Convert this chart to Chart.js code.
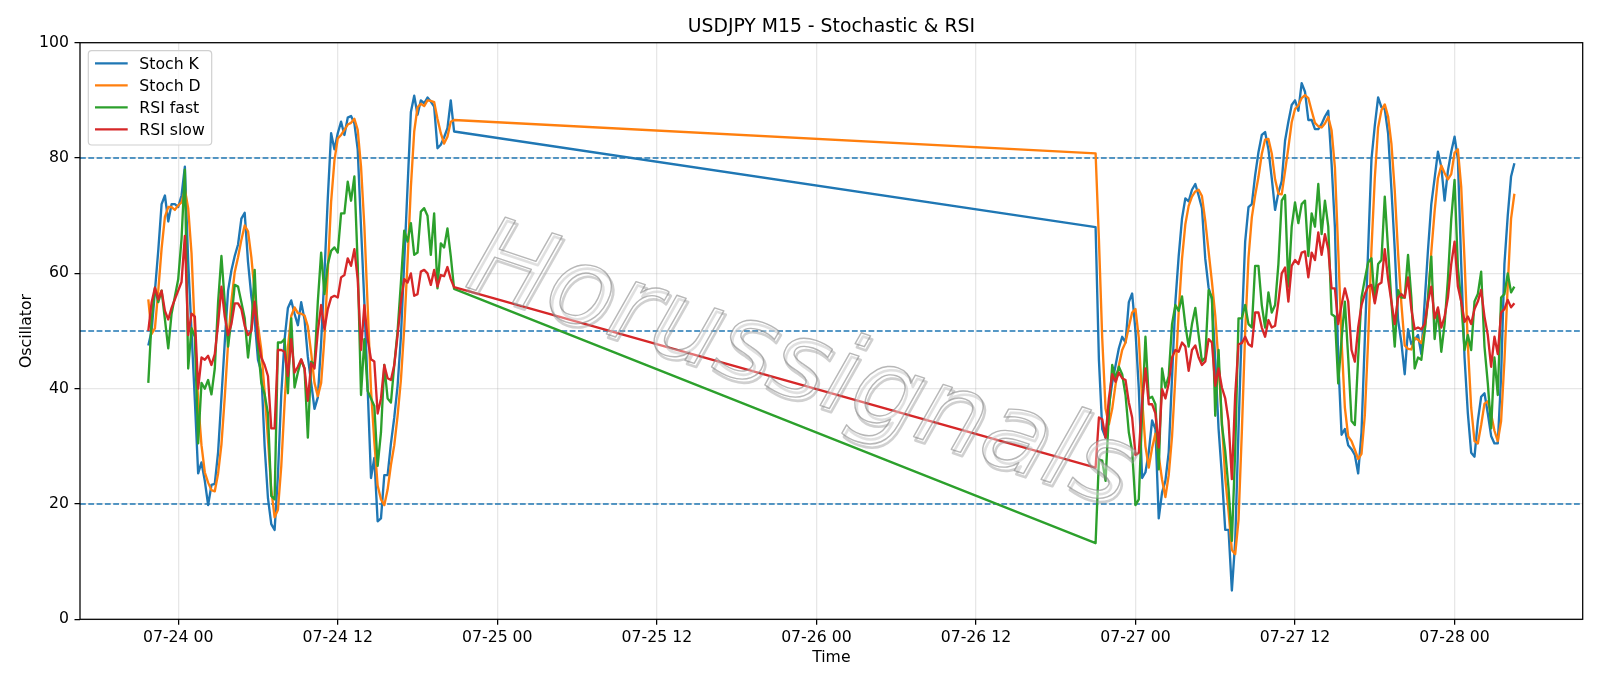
<!DOCTYPE html>
<html><head><meta charset="utf-8">
<script src="https://cdn.jsdelivr.net/npm/chart.js@4.4.1/dist/chart.umd.min.js"></script>
<style>html,body{margin:0;padding:0;background:#fff;}canvas{display:block;}</style>
</head><body>
<canvas id="c" width="1600" height="686"></canvas>
<script>
const chartTitle = 'USDJPY M15 - Stochastic & RSI';
const xAxisTitle = 'Time';
const yAxisTitle = 'Oscillator';
const watermarkText = 'Horussignals';
const seriesNames = ['Stoch K', 'Stoch D', 'RSI fast', 'RSI slow'];
const seriesColors = ['#1f77b4', '#ff7f0e', '#2ca02c', '#d62728'];
const xTickHours = [0, 12, 24, 36, 48, 60, 72, 84, 96];
const xTickLabels = ['07-24 00','07-24 12','07-25 00','07-25 12','07-26 00','07-26 12','07-27 00','07-27 12','07-28 00'];
const yTicks = [0, 20, 40, 60, 80, 100];
const levelLines = [20, 50, 80];
// time in hours from 07-24 00:00, M15 bars
const segment1 = {startHour: -2.25, count: 93};  // 07-23 21:45 .. 07-24 20:45
const segment2 = {startHour: 69, count: 127};    // 07-26 21:00 .. 07-28 04:30
const stepHours = 0.25;

const stochK = [
 47.5,50,57,64,72,73.5,69,72,72,71.5,
 73.5,78.5,62,50,38,25.3,27.2,24,19.8,23.3,
 23.5,29,38.5,48,57,60.5,63,65,69.5,70.5,
 62,56,52,45,43,30,21,16.5,15.5,25,
 39,48.5,54,55.3,53,51,55,52,45.5,41,
 36.5,38.5,48,60,73,84.3,81.5,84.3,86.3,84,
 87,87.3,86,81.5,68,55,40,24.5,28,17,
 17.5,25,25,30.5,35,40.5,49,62,75,88,
 90.8,87.5,90,89.5,90.5,89.8,88.9,81.7,82.3,83.6,
 85.2,90,84.6,
 68,45,33,31.5,37,41,44,47,49,48,
 55,56.5,50,40,24.5,25.5,29,34.5,33,17.5,
 22,24,29,42,55,63,69.5,73,72.5,74.5,
 75.5,73.5,71.3,62.5,57.5,55.5,45,33,25,15.5,
 15.5,5,13.5,33,51,65.5,71.5,72,77,81,
 84,84.5,81.5,76.5,71,74,76,83,86.3,89.2,
 90,88.2,93,91.5,86.6,86.6,85,85,85.9,87.2,
 88.2,79,68,45,32,33,30.2,29.5,28.5,25.3,
 32.4,48.6,64.2,79.8,85.6,90.5,88.8,88.5,84.3,74.6,
 64.2,51.9,48,42.5,50.3,47.7,48.5,49.3,46,55,
 64,72,76.5,81.1,78.5,72.6,77.8,81.1,83.7,79.8,
 61.6,45.4,35.7,28.9,28.2,34.4,38.6,39.2,35.7,31.8,
 30.5,30.5,42.2,61.6,70,76.8,79.1
];
const stochD = [
 55.5,49.5,50.5,57,64.3,69.8,71.5,71.5,71,71.8,
 72.3,74.5,71.3,63.5,50,37.8,30.2,25.5,23.7,22.4,
 22.2,25.3,30.3,38.5,47.8,55.2,60.2,62.8,65.8,68.3,
 67.3,62.8,56.7,51,46.7,39.3,31.3,22.5,17.7,19,
 26.5,37.5,47.2,52.6,54.1,53.1,53,52.7,50.8,46.2,
 41,38.7,41,48.8,60.3,72.4,79.6,83.4,84,84.9,
 85.8,86.1,86.8,84.9,78.5,68.2,54.3,39.8,30.8,23.2,
 20.8,19.8,22.5,26.8,30.2,35.3,41.5,50.5,62,75,
 84.6,88.8,89.4,89,90,89.9,89.7,86.8,84.3,82.5,
 83.7,86.3,86.6,
 80.8,65.9,48.7,36.5,33.8,36.5,40.7,44,46.7,48,
 50.7,53.2,53.8,48.8,38.2,30,26.3,29.7,32.2,28.3,
 24.2,21.2,25,31.7,42,53.3,62.5,68.5,71.7,73.3,
 74.2,74.5,73.4,69.1,63.8,58.5,52.7,44.5,34.3,24.5,
 18.7,12,11.3,17.2,32.5,49.8,62.7,69.7,73.5,76.7,
 80.7,83.2,83.3,80.8,76.3,73.8,73.7,77.7,81.8,86.2,
 88.5,89.1,90.4,90.9,90.4,88.2,86.1,85.5,85.3,86,
 87.1,84.8,78.4,64,48.3,36.7,31.7,30.9,29.4,27.8,
 28.7,35.4,48.4,64.2,76.5,85.3,88.3,89.3,87.2,82.5,
 74.4,63.6,54.7,47.5,46.9,46.8,48.8,48.5,47.9,50.1,
 55,63.7,70.8,76.5,78.7,77.4,76.3,77.2,80.9,81.5,
 75,62.3,47.6,36.7,30.9,30.5,33.7,37.4,37.8,35.6,
 32.7,30.9,34.4,44.8,57.9,69.5,73.8
];
const rsiFast = [
 41,52,57.5,55,57,52,47,53,56,59,
 66,78,43.5,50.5,49,30.5,41,40,41.5,39,
 43.5,55,63,55,47.3,52,58,57.7,55,52.2,
 45.4,50.6,60.6,47.3,41,39,35.7,21.4,20.8,48,
 48,48.6,39.2,52.2,40.2,42.8,45,43.5,31.5,44.7,
 44.1,55.1,63.6,56.4,61.6,63.9,64.5,63.6,70.4,70.4,
 75.9,72.6,76.8,61.6,38.9,48.6,39.6,38.3,37,26.6,
 32.4,44.1,38.3,37.6,44.1,50,58.4,67.4,65.5,68.7,
 63.2,63.6,70.7,71.3,70,63.2,70.4,57.4,65.2,64.5,
 67.8,63,57.3,
 13.2,27.7,27.5,24,35.7,44.1,41.8,43.8,42.5,38.9,
 32.4,29.2,19.8,20.8,35.7,49,38.3,38.6,37.3,26,
 43.5,40.2,42.2,51.2,54.5,53.5,56,51,47.3,51.2,
 54,49.3,44.7,45.4,57.1,55.8,35.3,46.7,33.7,29.2,
 22.7,13.6,29.2,52.2,52.2,54.5,51.2,50.6,61.3,61.3,
 54.5,50.6,56.7,53.2,54.5,61.6,72.6,73.6,57.7,68.1,
 72.3,68.7,72,72.6,63,70.4,68.1,75.5,66.8,72.6,
 68.1,52.9,52.5,40.9,48.6,55.1,45.4,34.4,33.7,45.4,
 55.8,59,61.9,62.6,55.1,61.6,62.3,73.3,64.2,55.1,
 47.3,57.1,55.8,55.8,63.2,55.8,43.5,45.4,45,49.9,
 55.8,62.9,48.6,53.8,46.4,51.2,59,69.4,76.2,61,
 55.1,46.7,49.3,46.7,55.1,56.4,60.3,47.3,40.9,33.1,
 45.4,38.9,55.8,56.4,60,56.7,57.7
];
const rsiSlow = [
 50,55,57.5,55.5,57,53.5,52,54,55.5,57,
 58.5,66.5,49.3,53,52.5,40,45.4,45,45.7,44.1,
 46,51.2,57.7,52.5,49.3,51.2,54.8,54.8,53.8,50.9,
 49.3,50,55.1,48.6,45.4,44.1,42.2,33.1,33.1,46.7,
 46.7,46.4,42.2,48.6,42.8,43.8,45.1,43.5,37.9,44.4,
 43.5,49.9,54.5,50.3,53.8,55.8,56.1,55.8,59.3,59.7,
 62.6,61.3,64.2,59,46.7,54.5,48.6,45.1,44.7,35.7,
 38.3,44.1,41.8,41.5,44.1,49.3,55.1,59,58.4,60,
 56.1,56.4,60.3,60.6,60,58,60.6,57.7,59.7,59.5,
 61.1,59,57.6,
 26.3,35,34.7,31.5,38.3,42.5,41.2,42.8,41.8,41.5,
 37.6,35,28.5,28.9,37.6,43.5,37.3,37.3,35.7,29.8,
 39.9,38.3,40.9,45.4,46.7,46.4,48,47.3,43.1,46.7,
 47.5,45.4,44.1,44.7,48.6,48,40.5,43.5,40.2,38.3,
 34.4,24.3,38.9,47.7,47.9,49,47.7,47.3,53.2,53.2,
 50.6,49,51.9,50.6,50.9,55.1,60,61,55.1,61.3,
 62.3,61.6,63.6,63.8,59.3,63.6,62.3,67.1,63.2,66.8,
 64.2,57.4,57.4,51.2,54.5,57.4,55.1,46.7,44.7,50.6,
 54.5,56.4,57.7,58,54.8,58,58.4,64.2,59,55.1,
 51.2,55.8,56.4,55.8,59.3,53.8,50.3,50.6,50.3,51.2,
 55.1,57.7,52.2,54.1,50.6,52.5,55.8,61.6,65.5,57.7,
 55.1,51.6,52.5,51.2,53.8,55.1,57.1,52.5,49.3,43.8,
 49,46,53.2,53.8,55.4,54.1,54.8
];

const timeHours = [];
for (let i = 0; i < segment1.count; i++) timeHours.push(segment1.startHour + i * stepHours);
for (let j = 0; j < segment2.count; j++) timeHours.push(segment2.startHour + j * stepHours);

const allSeries = [stochK, stochD, rsiFast, rsiSlow];
const xMin = -7.3875, xMax = 105.6375;
const FONT = '"DejaVu Sans", "Liberation Sans", sans-serif';
const FS = 15.7;

const mplPlugin = {
  id: 'mpl',
  beforeDraw(chart) {
    const ctx = chart.ctx;
    ctx.save(); ctx.fillStyle = '#fff'; ctx.fillRect(0, 0, chart.width, chart.height); ctx.restore();
  },
  beforeDatasetsDraw(chart) {
    const {ctx, chartArea: a, scales: {y}} = chart;
    ctx.save();
    ctx.beginPath(); ctx.rect(a.left, a.top, a.right - a.left, a.bottom - a.top); ctx.clip();
    ctx.strokeStyle = '#1f77b4'; ctx.lineWidth = 1.6; ctx.setLineDash([5.8, 2.5]);
    levelLines.forEach(v => {
      const py = y.getPixelForValue(v);
      ctx.beginPath(); ctx.moveTo(a.left, py); ctx.lineTo(a.right, py); ctx.stroke();
    });
    ctx.restore();
  },
  afterDatasetsDraw(chart) {
    const ctx = chart.ctx;
    ctx.save();
    ctx.translate(463, 286);
    ctx.rotate(18.5 * Math.PI / 180);
    ctx.font = 'italic 108px "DejaVu Sans"';
    ctx.textBaseline = 'alphabetic';
    ctx.lineJoin = 'round';
    ctx.strokeStyle = 'rgba(150,150,150,0.45)'; ctx.lineWidth = 2.6;
    ctx.strokeText(watermarkText, 3, 3);
    ctx.fillStyle = 'rgba(255,255,255,0.35)';
    ctx.fillText(watermarkText, 0, 0);
    ctx.strokeStyle = 'rgba(135,135,135,0.6)'; ctx.lineWidth = 1.4;
    ctx.strokeText(watermarkText, 0, 0);
    ctx.restore();
  },
  afterDraw(chart) {
    const {ctx, chartArea: a} = chart;
    ctx.save();
    ctx.strokeStyle = '#000'; ctx.lineWidth = 1.26;
    ctx.strokeRect(a.left, a.top, a.right - a.left, a.bottom - a.top);
    ctx.fillStyle = '#000';
    ctx.textAlign = 'center'; ctx.textBaseline = 'alphabetic';
    ctx.font = '18.8px ' + FONT;
    ctx.fillText(chartTitle, (a.left + a.right) / 2, 32);
    ctx.font = FS + 'px ' + FONT;
    ctx.fillText(xAxisTitle, (a.left + a.right) / 2, 662);
    ctx.save();
    ctx.translate(31, (a.top + a.bottom) / 2);
    ctx.rotate(-Math.PI / 2);
    ctx.fillText(yAxisTitle, 0, 0);
    ctx.restore();
    const lx = 88.3, ly = 50.7, lw = 123.4, lh = 94.3, r = 3.5;
    ctx.beginPath();
    ctx.moveTo(lx + r, ly); ctx.lineTo(lx + lw - r, ly); ctx.quadraticCurveTo(lx + lw, ly, lx + lw, ly + r);
    ctx.lineTo(lx + lw, ly + lh - r); ctx.quadraticCurveTo(lx + lw, ly + lh, lx + lw - r, ly + lh);
    ctx.lineTo(lx + r, ly + lh); ctx.quadraticCurveTo(lx, ly + lh, lx, ly + lh - r);
    ctx.lineTo(lx, ly + r); ctx.quadraticCurveTo(lx, ly, lx + r, ly); ctx.closePath();
    ctx.fillStyle = 'rgba(255,255,255,0.8)'; ctx.fill();
    ctx.strokeStyle = '#d0d0d0'; ctx.lineWidth = 1.2; ctx.stroke();
    ctx.textAlign = 'left'; ctx.textBaseline = 'alphabetic';
    chart.data.datasets.forEach((ds, k) => {
      const cy = 63.3 + 22 * k;
      ctx.strokeStyle = ds.borderColor; ctx.lineWidth = 2.35; ctx.lineCap = 'butt';
      ctx.beginPath(); ctx.moveTo(95, cy); ctx.lineTo(127.7, cy); ctx.stroke();
      ctx.fillStyle = '#000';
      ctx.fillText(ds.label, 139.3, cy + 5.7);
    });
    ctx.restore();
  }
};

const datasets = allSeries.map((vals, k) => ({
  label: seriesNames[k],
  data: vals.map((v, i) => ({x: timeHours[i], y: v})),
  borderColor: seriesColors[k],
  backgroundColor: seriesColors[k],
  borderWidth: 2.35,
  pointRadius: 0,
  tension: 0,
  fill: false,
  borderJoinStyle: 'round',
  order: allSeries.length - k
}));

new Chart(document.getElementById('c'), {
  type: 'line',
  data: {datasets},
  plugins: [mplPlugin],
  options: {
    responsive: false,
    animation: false,
    devicePixelRatio: 1,
    events: [],
    layout: {padding: {top: 42.7, right: 17.3, left: 0, bottom: 0}},
    plugins: {legend: {display: false}, title: {display: false}, tooltip: {enabled: false}},
    scales: {
      x: {
        type: 'linear', min: xMin, max: xMax,
        afterBuildTicks: s => { s.ticks = xTickHours.map(v => ({value: v})); },
        afterFit: s => { s.height = 66.7; },
        ticks: {
          autoSkip: false, maxRotation: 0, minRotation: 0, padding: 4,
          color: '#000', font: {family: FONT, size: FS},
          callback: (v, i) => xTickLabels[i]
        },
        grid: {color: 'rgba(176,176,176,0.3)', lineWidth: 1.26, tickColor: '#000', tickLength: 5.5, tickWidth: 1.26},
        border: {display: false}
      },
      y: {
        type: 'linear', min: 0, max: 100,
        afterBuildTicks: s => { s.ticks = yTicks.map(v => ({value: v})); },
        afterFit: s => { s.width = 80; },
        ticks: {
          padding: 5.5, color: '#000', font: {family: FONT, size: FS},
          callback: v => String(v)
        },
        grid: {color: 'rgba(176,176,176,0.3)', lineWidth: 1.26, tickColor: '#000', tickLength: 5.5, tickWidth: 1.26},
        border: {display: false}
      }
    }
  }
});
</script>
</body></html>
